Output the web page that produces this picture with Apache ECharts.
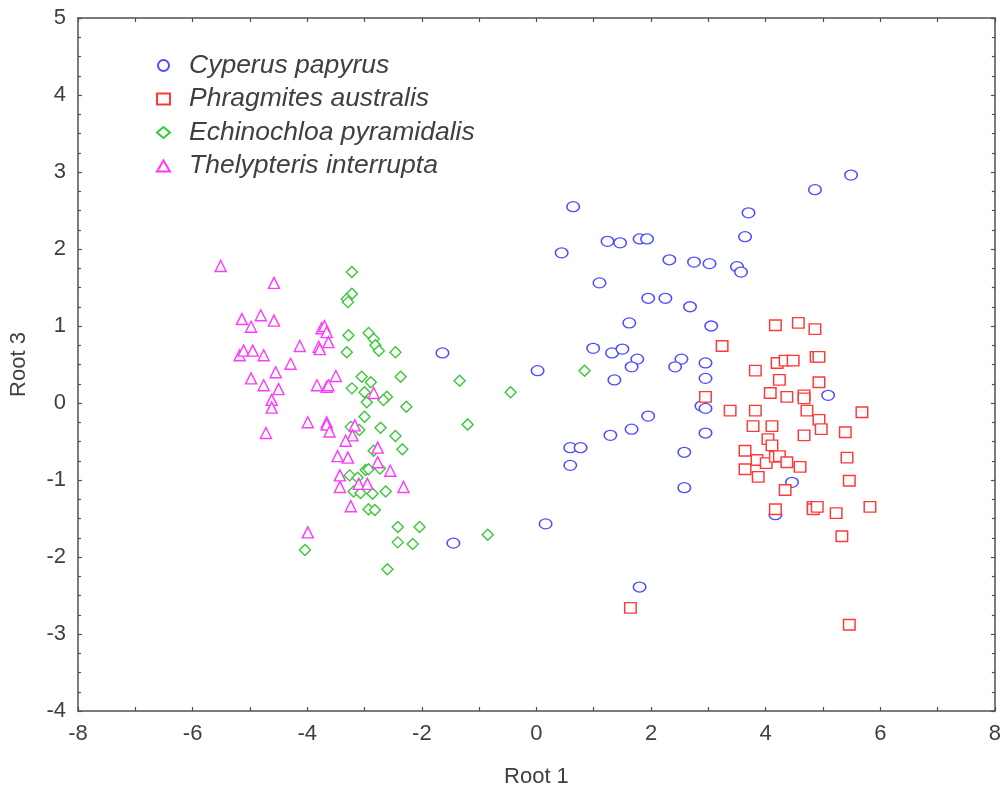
<!DOCTYPE html>
<html>
<head>
<meta charset="utf-8">
<script src="https://cdn.jsdelivr.net/npm/echarts@6/dist/echarts.min.js"></script>
<style>
html,body{margin:0;padding:0;background:#fff;}
#chart{width:1004px;height:793px;}
</style>
</head>
<body>
<div id="chart"></div>
<script>
// Series names
const seriesNames = ['Cyperus papyrus', 'Phragmites australis', 'Echinochloa pyramidalis', 'Thelypteris interrupta'];

// [Root 1, Root 3] pairs
const cyperus = [
  [5.49,2.96],[4.86,2.77],[3.70,2.47],[0.64,2.55],[0.44,1.95],[1.24,2.10],[1.46,2.08],[1.80,2.13],
  [1.93,2.13],[3.64,2.16],[2.32,1.86],[2.75,1.83],[3.02,1.81],[3.50,1.77],[3.57,1.70],[1.10,1.56],
  [1.95,1.36],[2.25,1.36],[2.68,1.25],[1.62,1.04],[3.05,1.00],[-1.64,0.65],[0.02,0.42],[0.99,0.71],
  [1.32,0.65],[1.50,0.70],[1.76,0.57],[1.66,0.47],[1.36,0.30],[2.53,0.57],[2.42,0.47],[2.95,0.52],
  [2.95,0.32],[2.88,-0.04],[2.95,-0.07],[1.95,-0.17],[1.66,-0.34],[1.29,-0.42],[2.95,-0.39],[0.59,-0.58],
  [0.77,-0.58],[0.59,-0.81],[2.58,-0.64],[2.58,-1.10],[5.09,0.10],[4.46,-1.03],[4.17,-1.45],[0.16,-1.57],
  [1.80,-2.39],[-1.45,-1.82]
];
const phragmites = [
  [4.17,1.01],[4.57,1.04],[4.86,0.96],[3.24,0.74],[4.20,0.52],[4.34,0.55],[4.48,0.55],[4.88,0.60],
  [4.93,0.60],[3.82,0.42],[4.24,0.30],[4.93,0.27],[2.95,0.08],[4.08,0.13],[4.37,0.08],[4.67,0.10],
  [4.67,0.06],[3.38,-0.10],[3.82,-0.10],[4.72,-0.10],[4.93,-0.22],[5.68,-0.12],[3.78,-0.30],[4.11,-0.30],
  [4.97,-0.34],[4.67,-0.42],[5.39,-0.38],[4.04,-0.47],[4.11,-0.55],[3.64,-0.62],[3.85,-0.74],[3.64,-0.86],
  [4.01,-0.78],[4.17,-0.70],[4.24,-0.69],[4.37,-0.77],[4.60,-0.83],[3.87,-0.96],[5.42,-0.71],[5.46,-1.01],
  [4.34,-1.13],[4.17,-1.38],[4.83,-1.35],[4.83,-1.38],[4.90,-1.35],[5.23,-1.43],[5.82,-1.35],[5.33,-1.73],
  [1.64,-2.66],[5.46,-2.88]
];
const echinochloa = [
  [-3.22,1.70],[-3.22,1.42],[-3.31,1.35],[-3.29,1.31],[-3.28,0.88],[-2.93,0.91],[-2.84,0.83],[-2.81,0.75],
  [-2.75,0.68],[-3.31,0.66],[-2.46,0.66],[-2.37,0.34],[-1.34,0.29],[-3.05,0.34],[-2.89,0.27],[-3.22,0.19],
  [-3.00,0.14],[-2.96,0.01],[-2.61,0.08],[-2.67,0.04],[-2.27,-0.05],[-1.20,-0.28],[-3.00,-0.18],[-2.72,-0.32],
  [-3.09,-0.35],[-3.24,-0.31],[-2.46,-0.43],[-2.34,-0.60],[-2.84,-0.62],[-2.98,-0.87],[-2.93,-0.86],[-2.73,-0.85],
  [-3.26,-0.94],[-3.12,-0.97],[-3.19,-1.15],[-3.07,-1.17],[-2.86,-1.18],[-2.63,-1.15],[-2.93,-1.38],[-2.82,-1.39],
  [-2.42,-1.61],[-2.04,-1.61],[-2.42,-1.81],[-2.16,-1.83],[-0.85,-1.71],[-4.04,-1.91],[-2.60,-2.16],[-0.45,0.14],
  [0.84,0.42]
];
const thelypteris = [
  [-5.51,1.78],[-4.58,1.56],[-5.14,1.09],[-4.81,1.14],[-4.98,0.99],[-4.58,1.07],[-3.75,0.97],[-3.70,1.00],
  [-3.66,0.92],[-3.63,0.79],[-4.13,0.74],[-3.80,0.73],[-3.78,0.70],[-5.18,0.62],[-5.11,0.68],[-4.95,0.68],
  [-4.76,0.62],[-4.29,0.51],[-4.55,0.40],[-4.98,0.32],[-4.76,0.23],[-4.50,0.18],[-3.50,0.35],[-3.83,0.23],
  [-3.66,0.21],[-3.63,0.23],[-4.62,0.04],[-4.62,-0.06],[-2.84,0.13],[-3.99,-0.25],[-3.66,-0.25],[-3.66,-0.28],
  [-3.61,-0.37],[-3.17,-0.29],[-3.21,-0.42],[-3.33,-0.49],[-4.72,-0.39],[-3.47,-0.69],[-3.29,-0.71],[-2.77,-0.58],
  [-2.77,-0.77],[-2.55,-0.88],[-3.43,-0.94],[-3.43,-1.09],[-3.10,-1.05],[-2.95,-1.05],[-2.32,-1.09],[-3.24,-1.34],
  [-3.99,-1.68]
];

const xTitle = 'Root 1';
const yTitle = 'Root 3';

const axisColor = '#505050';
const textColor = '#404040';
const fontFam = '"Liberation Sans", Arial, sans-serif';

const chart = echarts.init(document.getElementById('chart'), null, {renderer: 'canvas'});

function mkSeries(name, data, symbol, size, color) {
  return {
    name: name, type: 'scatter', data: data, symbol: symbol, symbolSize: size,
    itemStyle: {color: '#ffffff', borderColor: color, borderWidth: 1.4, opacity: 1},
    emphasis: {disabled: true}
  };
}

const frameAxisCommon = {
  axisLine: {show: true, onZero: false, lineStyle: {color: axisColor, width: 1.5}},
  splitLine: {show: false},
};

chart.setOption({
  animation: false,
  backgroundColor: '#ffffff',
  grid: {left: 78, right: 9, top: 18, bottom: 82, containLabel: false},
  legend: {
    orient: 'vertical', left: 151, top: 47,
    itemWidth: 13, itemHeight: 11, itemGap: 6.5,
    textStyle: {fontSize: 26.5, fontStyle: 'italic', color: textColor, fontFamily: fontFam, lineHeight: 27, padding: [0,0,0,14]},
    data: seriesNames
  },
  xAxis: [
    Object.assign({}, frameAxisCommon, {
      type: 'value', min: -8, max: 8, interval: 2, position: 'bottom',
      axisTick: {show: true, inside: true, length: 4, lineStyle: {color: axisColor, width: 1.2}},
      minorTick: {show: true, splitNumber: 2, length: 4, lineStyle: {color: axisColor, width: 1.2}},
      axisLabel: {fontSize: 22, color: textColor, fontFamily: fontFam, margin: 12},
      name: xTitle, nameLocation: 'middle', nameGap: 55,
      nameTextStyle: {fontSize: 22, color: textColor, fontFamily: fontFam}
    }),
    Object.assign({}, frameAxisCommon, {
      type: 'value', min: -8, max: 8, interval: 1, position: 'top',
      axisTick: {show: true, inside: true, length: 4, lineStyle: {color: axisColor, width: 1.2}},
      axisLabel: {show: false}
    })
  ],
  yAxis: [
    Object.assign({}, frameAxisCommon, {
      type: 'value', min: -4, max: 5, interval: 1, position: 'left',
      axisTick: {show: true, inside: true, length: 4, lineStyle: {color: axisColor, width: 1.2}},
      minorTick: {show: true, splitNumber: 4, length: 3, lineStyle: {color: axisColor, width: 1.2}},
      axisLabel: {fontSize: 22, color: textColor, fontFamily: fontFam, margin: 12},
      name: yTitle, nameLocation: 'middle', nameGap: 48, nameRotate: 90,
      nameTextStyle: {fontSize: 22, color: textColor, fontFamily: fontFam}
    }),
    Object.assign({}, frameAxisCommon, {
      type: 'value', min: -4, max: 5, interval: 1, position: 'right',
      axisTick: {show: true, inside: true, length: 4, lineStyle: {color: axisColor, width: 1.2}},
      minorTick: {show: true, splitNumber: 4, length: 3, lineStyle: {color: axisColor, width: 1.2}},
      axisLabel: {show: false}
    })
  ],
  series: [
    mkSeries(seriesNames[0], cyperus, 'circle', [12.5, 10], '#4d4dff'),
    mkSeries(seriesNames[1], phragmites, 'rect', [11.5, 10.5], '#ff3838'),
    mkSeries(seriesNames[2], echinochloa, 'diamond', [11, 11], '#38c838'),
    mkSeries(seriesNames[3], thelypteris, 'triangle', [11, 11], '#ff38ff')
  ]
});
</script>
</body>
</html>
